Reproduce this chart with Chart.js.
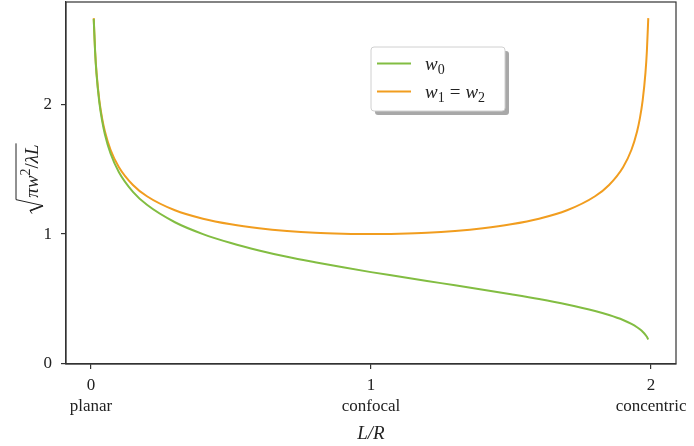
<!DOCTYPE html>
<html>
<head>
<meta charset="utf-8">
<script src="https://cdn.jsdelivr.net/npm/chart.js@4.4.1/dist/chart.umd.min.js"></script>
<style>
  html, body { margin: 0; padding: 0; background: #fff; }
  #wrap { width: 694px; height: 446px; }
</style>
</head>
<body>
<div id="wrap"><canvas id="chart" width="694" height="446"></canvas></div>
<script>
// L/R values where the curves were read
var ratioLR = [0.01, 0.015, 0.02, 0.03, 0.04, 0.05, 0.07, 0.1, 0.15, 0.2, 0.3, 0.4, 0.5, 0.6, 0.7, 0.8, 0.9, 1.0,
               1.1, 1.2, 1.3, 1.4, 1.5, 1.6, 1.7, 1.8, 1.85, 1.9, 1.93, 1.95, 1.96, 1.97, 1.98, 1.985, 1.99];
// waist w0
var waist0 = [2.656, 2.398, 2.231, 2.013, 1.871, 1.767, 1.620, 1.476, 1.325, 1.225, 1.091, 1.000, 0.931, 0.874, 0.825, 0.783, 0.744, 0.707,
              0.673, 0.639, 0.606, 0.572, 0.537, 0.500, 0.458, 0.408, 0.377, 0.339, 0.309, 0.283, 0.267, 0.248, 0.224, 0.209, 0.188];
// spot on the mirrors w1 = w2
var mirrorSpot = [2.662, 2.407, 2.242, 2.028, 1.890, 1.790, 1.649, 1.515, 1.378, 1.291, 1.183, 1.118, 1.075, 1.045, 1.024, 1.010, 1.003, 1.000,
                  1.003, 1.010, 1.024, 1.045, 1.075, 1.118, 1.183, 1.291, 1.378, 1.515, 1.649, 1.790, 1.890, 2.028, 2.242, 2.407, 2.662];
var xTickLabels = { 0: 'planar', 1: 'confocal', 2: 'concentric' };
var yTicks = [0, 1, 2];

var greenCol = '#82bd42';
var orangeCol = '#f19d1f';
var axisCol = '#333333';
var serif = '"Liberation Serif", "DejaVu Serif", serif';

function toPoints(ys) {
    var pts = [];
    for (var i = 0; i < ratioLR.length; i++) {
        pts.push({ x: ratioLR[i], y: ys[i] });
    }
    return pts;
}

// writes italic symbol with a subscript, returns the x after it
function symSub(ctx, sym, sub, x, y) {
    ctx.font = 'italic 19px ' + serif;
    ctx.fillText(sym, x, y);
    x += ctx.measureText(sym).width;
    ctx.font = '14px ' + serif;
    ctx.fillText(sub, x, y + 4);
    return x + ctx.measureText(sub).width;
}

var decorPlugin = {
    id: 'decor',
    afterDraw: function (chart) {
        var ctx = chart.ctx;
        var a = chart.chartArea;
        ctx.save();
        // frame
        ctx.strokeStyle = axisCol;
        ctx.lineWidth = 1.2;
        ctx.strokeRect(a.left, a.top, a.right - a.left, a.bottom - a.top);

        // legend box with shadow
        var bx = 371, by = 47, bw = 134, bh = 64;
        ctx.fillStyle = '#a8a8a8';
        ctx.beginPath();
        ctx.roundRect(bx + 4, by + 4, bw, bh, 3);
        ctx.fill();
        ctx.fillStyle = '#ffffff';
        ctx.strokeStyle = '#d0d0d0';
        ctx.lineWidth = 1;
        ctx.beginPath();
        ctx.roundRect(bx, by, bw, bh, 3);
        ctx.fill();
        ctx.stroke();

        ctx.lineWidth = 2;
        ctx.strokeStyle = greenCol;
        ctx.beginPath(); ctx.moveTo(377, 63.5); ctx.lineTo(411, 63.5); ctx.stroke();
        ctx.strokeStyle = orangeCol;
        ctx.beginPath(); ctx.moveTo(377, 91.5); ctx.lineTo(411, 91.5); ctx.stroke();

        ctx.fillStyle = '#222';
        ctx.textBaseline = 'alphabetic';
        ctx.textAlign = 'left';
        symSub(ctx, 'w', '0', 425, 70);
        var xx = symSub(ctx, 'w', '1', 425, 98);
        ctx.font = '19px ' + serif;
        ctx.fillText('=', xx + 5, 98);
        xx += 5 + ctx.measureText('=').width + 5;
        symSub(ctx, 'w', '2', xx, 98);

        // x title
        ctx.font = 'italic 19px ' + serif;
        ctx.textAlign = 'center';
        ctx.fillText('L/R', (a.left + a.right) / 2 + 0, 439);

        // y title, rotated with radical sign
        ctx.translate(38, 177);
        ctx.rotate(-Math.PI / 2);
        ctx.textAlign = 'left';
        var parts = [['italic 19px ', 'πw', 0], ['14px ', '2', -8], ['19px ', '/', 0], ['italic 19px ', 'λL', 0]];
        var tw = 0, i;
        for (i = 0; i < parts.length; i++) {
            ctx.font = parts[i][0] + serif;
            tw += ctx.measureText(parts[i][1]).width;
        }
        var x0 = -tw / 2 + 6;
        var cx = x0;
        for (i = 0; i < parts.length; i++) {
            ctx.font = parts[i][0] + serif;
            ctx.fillText(parts[i][1], cx, parts[i][2]);
            cx += ctx.measureText(parts[i][1]).width;
        }
        ctx.strokeStyle = '#222';
        ctx.lineWidth = 1;
        ctx.beginPath();
        ctx.moveTo(x0 - 16, -6);
        ctx.lineTo(x0 - 13, -8);
        ctx.lineTo(x0 - 8, 5);
        ctx.lineTo(x0 - 2, -22);
        ctx.lineTo(cx + 1, -22);
        ctx.stroke();
        ctx.lineWidth = 1.6;
        ctx.beginPath();
        ctx.moveTo(x0 - 13, -8);
        ctx.lineTo(x0 - 8, 5);
        ctx.stroke();
        ctx.restore();
    }
};

var ctx = document.getElementById('chart');
var lineChart = new Chart(ctx, {
    type: 'scatter',
    data: {
        datasets: [{
            label: 'w0',
            data: toPoints(waist0),
            showLine: true,
            borderColor: greenCol,
            borderWidth: 2,
            pointRadius: 0,
            cubicInterpolationMode: 'monotone'
        }, {
            label: 'w1 = w2',
            data: toPoints(mirrorSpot),
            showLine: true,
            borderColor: orangeCol,
            borderWidth: 2,
            pointRadius: 0,
            cubicInterpolationMode: 'monotone'
        }]
    },
    options: {
        responsive: false,
        animation: false,
        layout: { padding: { left: 0, right: 18, top: 2, bottom: 0 } },
        plugins: {
            legend: { display: false },
            tooltip: { enabled: false }
        },
        scales: {
            x: {
                type: 'linear',
                min: -0.089,
                max: 2.089,
                afterBuildTicks: function (scale) {
                    scale.ticks = [{ value: 0 }, { value: 1 }, { value: 2 }];
                },
                afterFit: function (scale) { scale.height = 82; scale.paddingLeft = 0; scale.paddingRight = 0; },
                grid: { display: true, drawOnChartArea: false, drawTicks: true, tickLength: 5, color: axisCol, lineWidth: 1.2 },
                border: { display: true, color: axisCol, width: 1.2 },
                ticks: {
                    maxRotation: 0,
                    padding: 6,
                    color: '#222',
                    font: { family: serif, size: 17, lineHeight: 1.25 },
                    callback: function (v) { return [String(v), xTickLabels[v]]; }
                }
            },
            y: {
                type: 'linear',
                min: 0,
                max: 2.786,
                afterBuildTicks: function (scale) {
                    scale.ticks = yTicks.map(function (v) { return { value: v }; });
                },
                afterFit: function (scale) { scale.width = 66; scale.paddingTop = 0; scale.paddingBottom = 0; },
                grid: { display: true, drawOnChartArea: false, drawTicks: true, tickLength: 5, color: axisCol, lineWidth: 1.2 },
                border: { display: true, color: axisCol, width: 1.2 },
                ticks: {
                    padding: 9,
                    color: '#222',
                    font: { family: serif, size: 17 },
                    callback: function (v) { return String(v); }
                }
            }
        }
    },
    plugins: [decorPlugin]
});
</script>
</body>
</html>
